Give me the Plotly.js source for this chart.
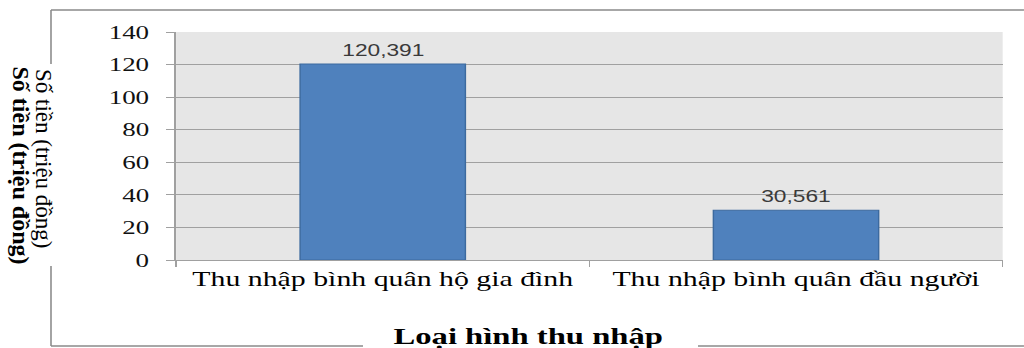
<!DOCTYPE html>
<html><head><meta charset="utf-8">
<script src="https://cdn.plot.ly/plotly-3.0.1.min.js"></script>
<style>
html,body{margin:0;padding:0;background:#fff;overflow:hidden;}
#wrap{position:relative;width:1024px;height:348px;}
#chart{position:absolute;left:0;top:0;width:721px;height:348px;transform-origin:0 0;transform:scaleX(1.4202);}
#ytitle{position:absolute;left:0;top:0;width:70px;height:348px;pointer-events:none;}
</style></head>
<body><div id="wrap"><div id="chart"></div><div id="ytitle"></div></div>
<script>
const categories = ["Thu nhập bình quân hộ gia đình", "Thu nhập bình quân đầu người"];
const values = [120.391, 30.561];
const valueLabels = ["120,391", "30,561"];
const yTickValues = [0, 20, 40, 60, 80, 100, 120, 140];
const xTitle = "Loại hình thu nhập";
const yTitle = "Số tiền (triệu đồng)";

const S = 1024 / 721, W = 721, H = 348, L = 124, R = 15, T = 32, B = 88;
function px(xr) { return (xr / S - L) / (W - L - R); }
function py(yr) { return (H - B - yr) / (H - T - B); }
const frameColor = '#8a8a8a';
function hline(x0, x1, y) { return {type:'line', xref:'paper', yref:'paper', x0:px(x0), x1:px(x1), y0:py(y), y1:py(y), line:{color:frameColor, width:1.6}}; }
function vline(x, y0, y1) { return {type:'line', xref:'paper', yref:'paper', x0:px(x), x1:px(x), y0:py(y0), y1:py(y1), line:{color:frameColor, width:1.1}}; }

const annotations = categories.map((c, i) => ({
  x: c, y: values[i], xref: 'x', yref: 'y', text: valueLabels[i], showarrow: false,
  yanchor: 'bottom', yshift: 3, font: {family: 'Liberation Sans, Arial, sans-serif', size: 16, color: '#3a3a3a'}
}));
annotations.push({
  xref: 'paper', yref: 'paper', x: px(528), y: py(336), text: '<b>' + xTitle + '</b>', showarrow: false,
  xanchor: 'center', yanchor: 'middle', font: {family: 'Liberation Serif, Times New Roman, serif', size: 23, color: '#000'}
});

const trace = {
  type: 'bar', x: categories, y: values, width: 0.4,
  marker: {color: '#4f81bd', line: {color: '#3c6a9f', width: 1}},
  hoverinfo: 'skip'
};

const layout = {
  width: W, height: H,
  margin: {l: L, r: R, t: T, b: B, pad: 0},
  paper_bgcolor: 'rgba(0,0,0,0)', plot_bgcolor: '#e6e6e6',
  showlegend: false,
  xaxis: {
    type: 'category', showline: true, linecolor: '#a0a0a0', linewidth: 1.2,
    ticks: 'outside', tickson: 'boundaries', ticklen: 6, tickcolor: '#a0a0a0', tickwidth: 1,
    showgrid: false, zeroline: false,
    tickfont: {family: 'Liberation Serif, Times New Roman, serif', size: 21, color: '#000'}
  },
  yaxis: {
    range: [0, 140], tickvals: yTickValues, showline: true, linecolor: '#a0a0a0', linewidth: 1.2,
    ticks: 'outside', ticklen: 6, tickcolor: '#a0a0a0', tickwidth: 1, ticklabelstandoff: 8,
    showgrid: true, gridcolor: '#a0a0a0', gridwidth: 1, zeroline: false,
    tickfont: {family: 'Liberation Serif, Times New Roman, serif', size: 19, color: '#111'}
  },
  shapes: [
    hline(51, 1024, 10),
    vline(51, 10, 64),
    vline(51, 266, 346),
    hline(51, 363, 346),
    hline(698, 1024, 346)
  ],
  annotations: annotations
};

Plotly.newPlot('chart', [trace], layout, {staticPlot: true, displayModeBar: false});

const yLayout = {
  width: 70, height: 348, margin: {l: 0, r: 0, t: 0, b: 0},
  paper_bgcolor: 'rgba(0,0,0,0)', plot_bgcolor: 'rgba(0,0,0,0)',
  xaxis: {visible: false, range: [0, 1]}, yaxis: {visible: false, range: [0, 1]},
  annotations: [
    {xref: 'paper', yref: 'paper', x: 20.5 / 70, y: 1 - 165 / 348, text: '<b>' + yTitle + '</b>', textangle: 90,
     showarrow: false, xanchor: 'center', yanchor: 'middle',
     font: {family: 'Liberation Serif, Times New Roman, serif', size: 24, color: '#000'}},
    {xref: 'paper', yref: 'paper', x: 44 / 70, y: 1 - 159 / 348, text: yTitle, textangle: 90,
     showarrow: false, xanchor: 'center', yanchor: 'middle',
     font: {family: 'Liberation Serif, Times New Roman, serif', size: 23, color: '#000'}}
  ]
};
Plotly.newPlot('ytitle', [], yLayout, {staticPlot: true, displayModeBar: false});
</script>
</body></html>
